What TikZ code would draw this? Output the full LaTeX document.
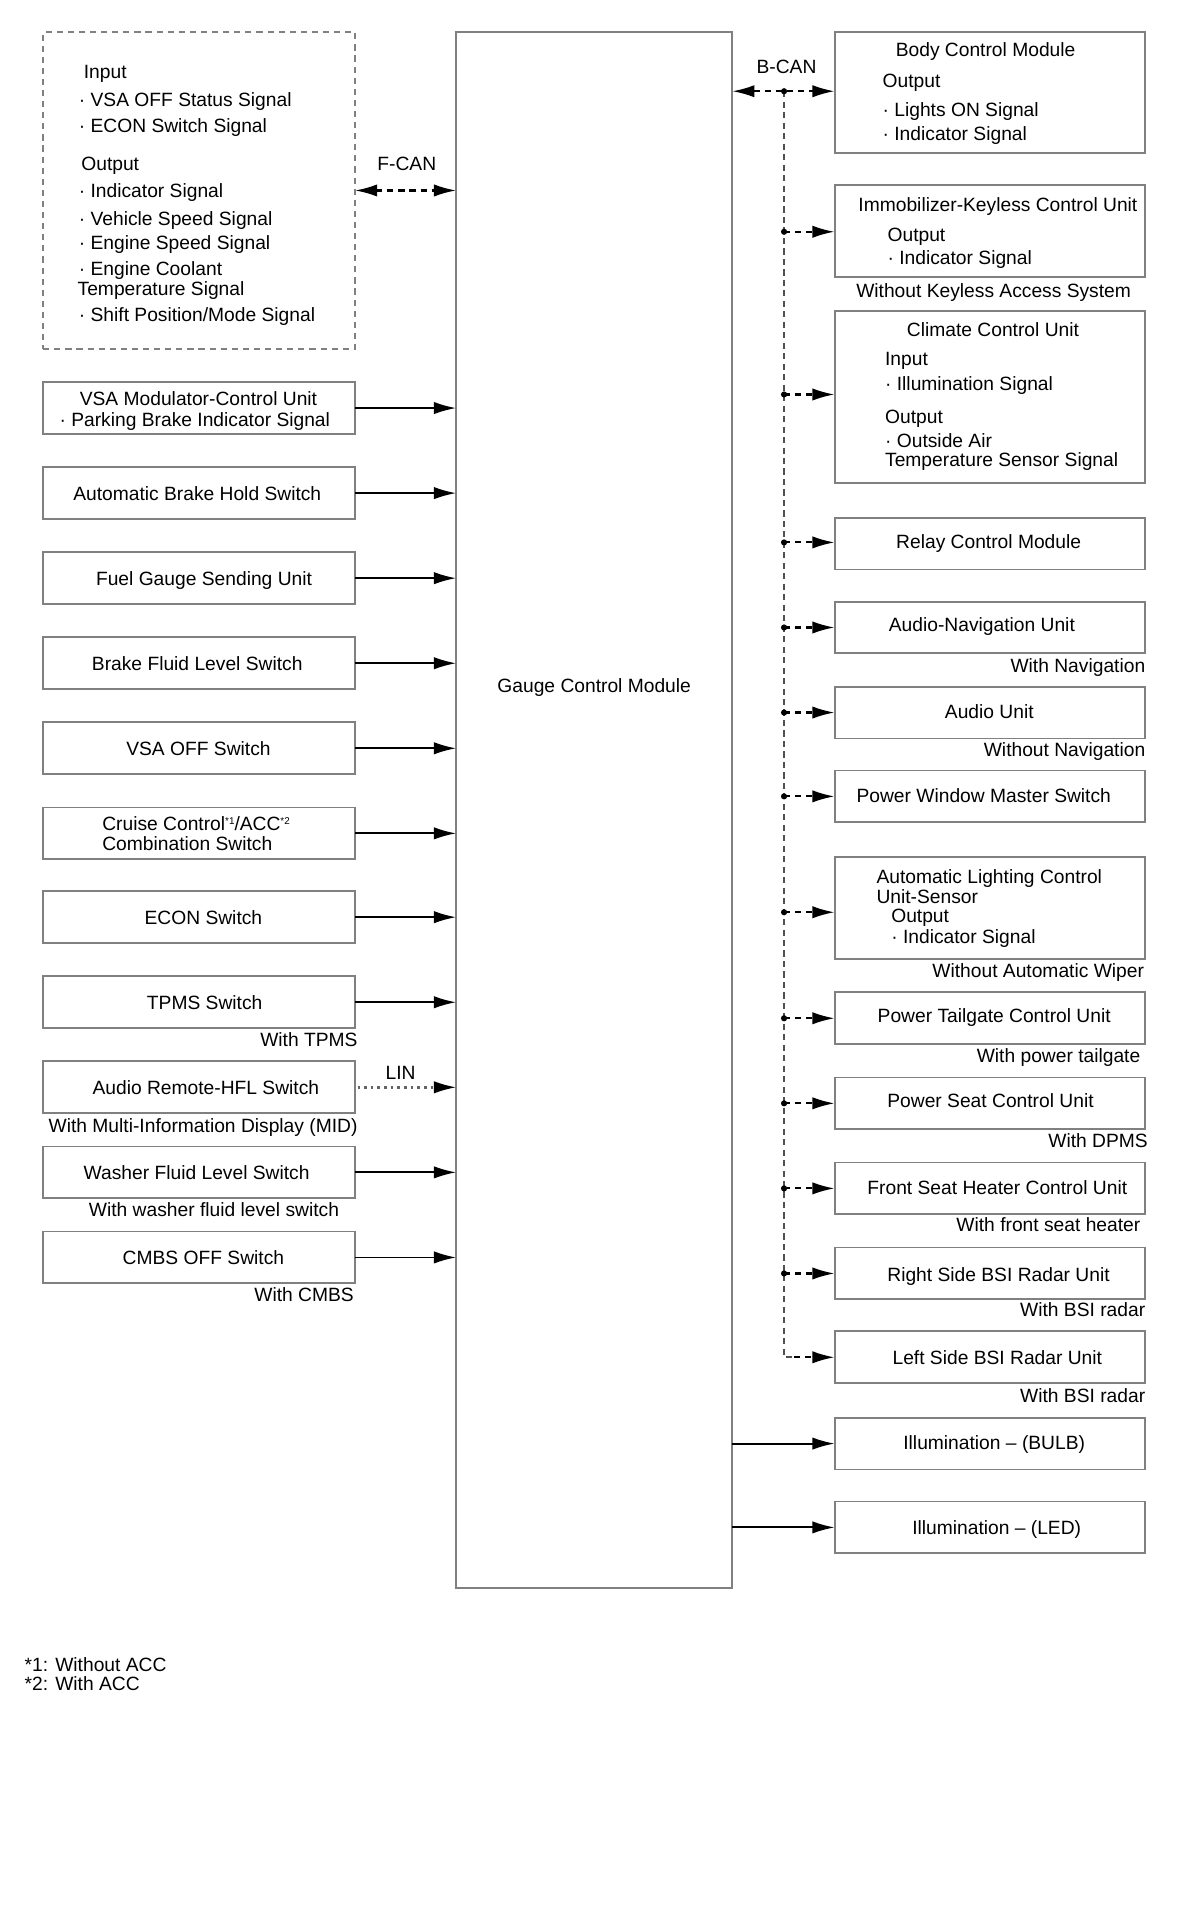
\documentclass[tikz,border=0pt]{standalone}
\usepackage{fontspec}
\setmainfont{Liberation Sans}
\usetikzlibrary{arrows.meta}
\definecolor{boxgray}{RGB}{128,128,128}
\definecolor{busgray}{RGB}{80,80,80}
\definecolor{lingray}{RGB}{100,100,100}
\newcommand{\supmark}[1]{\raisebox{4.5pt}{\fontsize{8}{8}\selectfont #1}}
\begin{document}
\begin{tikzpicture}[x=1pt,y=-1pt,
  every node/.style={font=\fontsize{15.6}{17}\selectfont, inner sep=0pt, outer sep=0pt},
  lbl/.style={text height=11.2pt, text depth=0pt},
  box/.style={draw=boxgray, line width=1.5pt, anchor=north west, minimum height=42pt},
  lbox/.style={box, minimum width=253pt},
  rbox/.style={box, minimum width=252pt},
  tip/.style={-{Latex[length=18pt,width=10pt]}},
  arr/.style={line width=1.5pt, tip},
  darr/.style={line width=1.7pt, dash pattern=on 5pt off 4pt, tip},
  ddarr/.style={line width=1.7pt, dash pattern=on 5pt off 4pt, {Latex[length=18pt,width=10pt]}-{Latex[length=18pt,width=10pt]}},
  larr/.style={line width=2pt, draw=lingray, dash pattern=on 2pt off 3.4pt},
  bus/.style={line width=1.9pt, busgray, dash pattern=on 5pt off 3.5pt},
  jdot/.style={circle, fill=black, minimum size=5pt, inner sep=0pt}
]
\useasboundingbox[fill=white] (0,0) rectangle (973.4,1566.4);

% ---------- Gauge Control Module ----------
\node[draw=boxgray, line width=1.5pt, anchor=north west, minimum width=224pt, minimum height=1262pt] (gcm) at (370,26) {};
\node[lbl] (gcmtext) at (482,556) {Gauge Control Module};

% ---------- F-CAN dashed box ----------
\node[draw=boxgray, line width=1.5pt, dash pattern=on 5pt off 4pt, anchor=north west, minimum width=253pt, minimum height=257pt] (fbox) at (35,26) {};
\node[lbl, anchor=west] (f1) at (68,58) {Input};
\node[lbl, anchor=west] (f2) at (64,81) {· VSA OFF Status Signal};
\node[lbl, anchor=west] (f3) at (64,102) {· ECON Switch Signal};
\node[lbl, anchor=west] (f4) at (66,133) {Output};
\node[lbl, anchor=west] (f5) at (64,155) {· Indicator Signal};
\node[lbl, anchor=west] (f6) at (64,177) {· Vehicle Speed Signal};
\node[lbl, anchor=west] (f7) at (64,197) {· Engine Speed Signal};
\node[lbl, anchor=west] (f8) at (64,218) {· Engine Coolant};
\node[lbl, anchor=west] (f9) at (63,234) {Temperature Signal};
\node[lbl, anchor=west] (f10) at (64,255) {· Shift Position/Mode Signal};
\node[lbl] (fcan) at (330,133) {F-CAN};
\draw[ddarr] (fbox.east) -- (gcm.west |- fbox.east);

% ---------- Left column ----------
\node[lbox] (vsa) at (35,310) {};
\node[lbl] (vsat1) at (161,323) {VSA Modulator-Control Unit};
\node[lbl] (vsat2) at (158,340) {· Parking Brake Indicator Signal};

\node[lbox] (abh) at (35,379) {};
\node[lbl] (abht) at (160,400) {Automatic Brake Hold Switch};

\node[lbox] (fuel) at (35,448) {};
\node[lbl] (fuelt) at (165.5,469) {Fuel Gauge Sending Unit};

\node[lbox] (brake) at (35,517) {};
\node[lbl] (braket) at (160,538) {Brake Fluid Level Switch};

\node[lbox] (vsaoff) at (35,586) {};
\node[lbl] (vsaofft) at (161,607) {VSA OFF Switch};

\node[lbox] (cruise) at (35,655) {};
\node[lbl, anchor=west] (cruiset1) at (83,668) {Cruise Control\supmark{*1}/ACC\supmark{*2}};
\node[lbl, anchor=west] (cruiset2) at (83,684) {Combination Switch};

\node[lbox] (econ) at (35,723) {};
\node[lbl] (econt) at (165,744) {ECON Switch};

\node[lbox] (tpms) at (35,792) {};
\node[lbl] (tpmst) at (166,813) {TPMS Switch};
\node[lbl, anchor=east] (tpmsn) at (290,843) {With TPMS};

\node[lbox] (audrem) at (35,861) {};
\node[lbl] (audremt) at (167,882) {Audio Remote-HFL Switch};
\node[lbl, anchor=east] (audremn) at (290,913) {With Multi-Information Display (MID)};
\node[lbl] (lin) at (325,870) {LIN};

\node[lbox] (washer) at (35,930) {};
\node[lbl] (washert) at (159.5,951) {Washer Fluid Level Switch};
\node[lbl, anchor=east] (washern) at (275,981) {With washer fluid level switch};

\node[lbox] (cmbs) at (35,999) {};
\node[lbl] (cmbst) at (165,1020) {CMBS OFF Switch};
\node[lbl, anchor=east] (cmbsn) at (287,1050) {With CMBS};

\foreach \n in {vsa,abh,fuel,brake,vsaoff,cruise,econ,tpms,washer,cmbs}
  \draw[arr] (\n.east) -- (gcm.west |- \n.east);
\coordinate (linend) at ([xshift=-18pt]gcm.west |- audrem.east);
\draw[larr] ([xshift=2pt]audrem.east) -- (linend);
\draw[arr] (linend) -- (gcm.west |- audrem.east);

% ---------- Right column ----------
\node[rbox, minimum height=98pt] (bcm) at (677,26) {};
\node[lbl] (bcmt1) at (799.5,40) {Body Control Module};
\node[lbl, anchor=west] (bcmt2) at (716,65) {Output};
\node[lbl, anchor=west] (bcmt3) at (716,89) {· Lights ON Signal};
\node[lbl, anchor=west] (bcmt4) at (716,108) {· Indicator Signal};
\node[lbl] (bcan) at (638,54) {B-CAN};

\node[rbox, minimum height=75pt] (imm) at (677,150) {};
\node[lbl] (immt1) at (809.5,166) {Immobilizer-Keyless Control Unit};
\node[lbl, anchor=west] (immt2) at (720,190) {Output};
\node[lbl, anchor=west] (immt3) at (720,209) {· Indicator Signal};
\node[lbl] (immn) at (806,236) {Without Keyless Access System};

\node[rbox, minimum height=140pt] (clim) at (677,252) {};
\node[lbl] (climt1) at (805.5,267) {Climate Control Unit};
\node[lbl, anchor=west] (climt2) at (718,291) {Input};
\node[lbl, anchor=west] (climt3) at (718,311) {· Illumination Signal};
\node[lbl, anchor=west] (climt4) at (718,338) {Output};
\node[lbl, anchor=west] (climt5) at (718,357) {· Outside Air};
\node[lbl, anchor=west] (climt6) at (718,373) {Temperature Sensor Signal};

\node[rbox] (relay) at (677,420) {};
\node[lbl] (relayt) at (802,439) {Relay Control Module};

\node[rbox] (audnav) at (677,488) {};
\node[lbl] (audnavt) at (796.5,507) {Audio-Navigation Unit};
\node[lbl, anchor=east] (audnavn) at (929,540) {With Navigation};

\node[rbox] (audu) at (677,557) {};
\node[lbl] (audut) at (802.5,577) {Audio Unit};
\node[lbl, anchor=east] (audun) at (929,608) {Without Navigation};

\node[rbox] (pwm) at (677,625) {};
\node[lbl] (pwmt) at (798,645) {Power Window Master Switch};

\node[rbox, minimum height=83pt] (alc) at (677,695) {};
\node[lbl, anchor=west] (alct1) at (711,711) {Automatic Lighting Control};
\node[lbl, anchor=west] (alct2) at (711,727) {Unit-Sensor};
\node[lbl, anchor=west] (alct3) at (723,743) {Output};
\node[lbl, anchor=west] (alct4) at (723,760) {· Indicator Signal};
\node[lbl, anchor=east] (alcn) at (928,787) {Without Automatic Wiper};

\node[rbox] (ptg) at (677,805) {};
\node[lbl] (ptgt) at (806.5,824) {Power Tailgate Control Unit};
\node[lbl, anchor=east] (ptgn) at (925,856) {With power tailgate};

\node[rbox] (pseat) at (677,874) {};
\node[lbl] (pseatt) at (803.5,893) {Power Seat Control Unit};
\node[lbl, anchor=east] (pseatn) at (931,925) {With DPMS};

\node[rbox] (fsh) at (677,943) {};
\node[lbl] (fsht) at (809,963) {Front Seat Heater Control Unit};
\node[lbl, anchor=east] (fshn) at (925,993) {With front seat heater};

\node[rbox] (rbsi) at (677,1012) {};
\node[lbl] (rbsit) at (810,1034) {Right Side BSI Radar Unit};
\node[lbl, anchor=east] (rbsin) at (929,1062) {With BSI radar};

\node[rbox] (lbsi) at (677,1080) {};
\node[lbl] (lbsit) at (809,1101) {Left Side BSI Radar Unit};
\node[lbl, anchor=east] (lbsin) at (929,1132) {With BSI radar};

\node[rbox] (bulb) at (677,1150) {};
\node[lbl] (bulbt) at (806.5,1170) {Illumination -- (BULB)};

\node[rbox] (led) at (677,1218) {};
\node[lbl] (ledt) at (808.5,1239) {Illumination -- (LED)};

% ---------- B-CAN bus ----------
\coordinate (bustop) at (636,74);
\coordinate (busbot) at (636,1101);
\coordinate (buscorner) at (644,1101);
\draw[bus] (bustop) -- (busbot) -- (buscorner);
\draw[darr] (buscorner) -- (lbsi.west |- busbot);
\draw[ddarr] (gcm.east |- bustop) -- (bcm.west |- bustop);
\node[jdot] (j0) at (bustop) {};
\foreach \n/\yy in {imm/188,clim/320,relay/440,audnav/509,audu/578,pwm/646,alc/740,ptg/826,pseat/895,fsh/964,rbsi/1033}{
  \node[jdot] (j\n) at (636,\yy) {};
  \draw[darr] (j\n.center) -- (\n.west |- j\n.center);
}

\draw[arr] (gcm.east |- bulb.west) -- (bulb.west);
\draw[arr] (gcm.east |- led.west) -- (led.west);

% ---------- Footnotes ----------
\node[lbl, anchor=west] (fn1) at (20,1350) {*1: Without ACC};
\node[lbl, anchor=west] (fn2) at (20,1366) {*2: With ACC};
\end{tikzpicture}
\end{document}
